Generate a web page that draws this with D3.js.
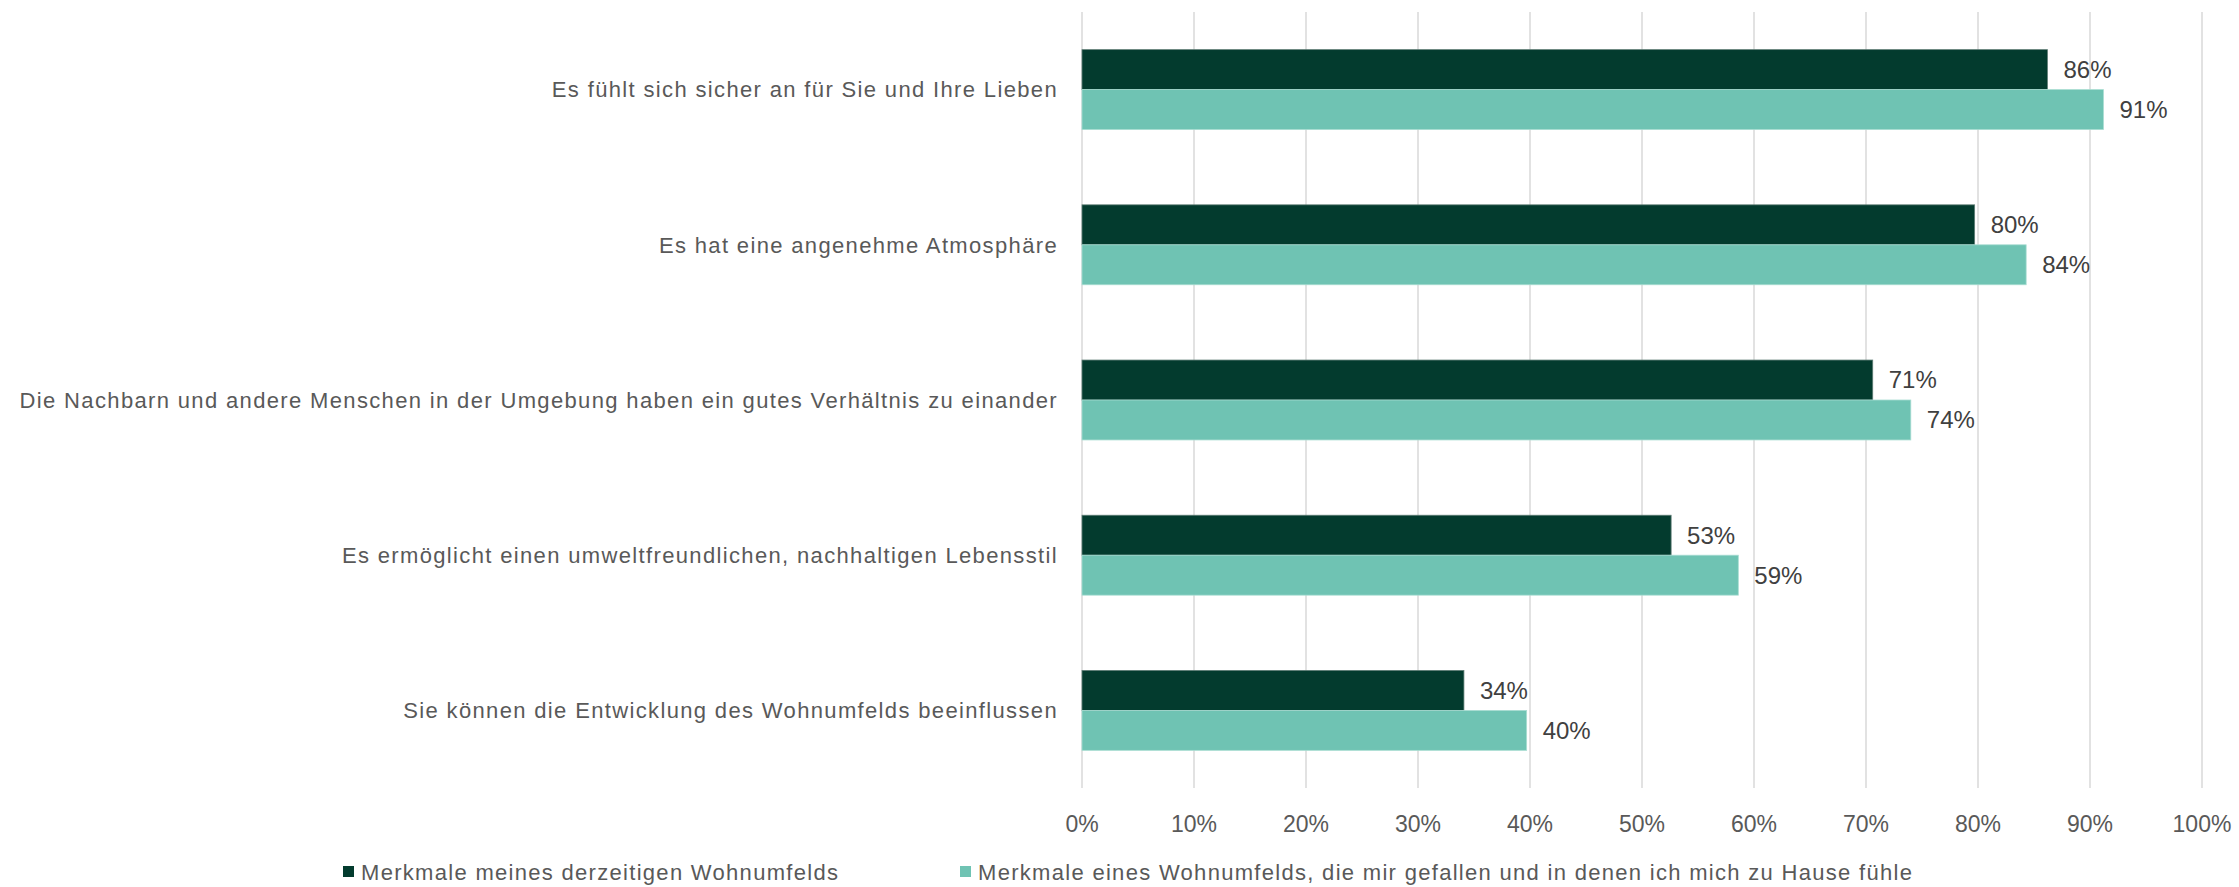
<!DOCTYPE html>
<html>
<head>
<meta charset="utf-8">
<script src="https://cdn.jsdelivr.net/npm/d3@7"></script>
<style>
  body { margin: 0; background: #fff; }
  text { font-family: "Liberation Sans", Arial, sans-serif; }
</style>
</head>
<body>
<div id="chart"></div>
<script>
// categories, top to bottom
const categories = [
  "Es fühlt sich sicher an für Sie und Ihre Lieben",
  "Es hat eine angenehme Atmosphäre",
  "Die Nachbarn und andere Menschen in der Umgebung haben ein gutes Verhältnis zu einander",
  "Es ermöglicht einen umweltfreundlichen, nachhaltigen Lebensstil",
  "Sie können die Entwicklung des Wohnumfelds beeinflussen"
];
const seriesNames = [
  "Merkmale meines derzeitigen Wohnumfelds",
  "Merkmale eines Wohnumfelds, die mir gefallen und in denen ich mich zu Hause fühle"
];
const current = [86.2, 79.7, 70.6, 52.6, 34.1];
const ideal = [91.2, 84.3, 74.0, 58.6, 39.7];
const ticks = [0, 10, 20, 30, 40, 50, 60, 70, 80, 90, 100];
const colors = ["#033b2e", "#6fc3b3"];

const W = 2239, H = 887;
const margin = {top: 12, right: 37, bottom: 99, left: 1082};
const width = W - margin.left - margin.right;
const height = H - margin.top - margin.bottom;

const svg = d3.select("#chart").append("svg")
  .attr("width", W).attr("height", H);

const g = svg.append("g")
  .attr("transform", `translate(${margin.left},${margin.top})`);

const x = d3.scaleLinear().domain([0, 100]).range([0, width]);
const y = d3.scaleBand().domain(categories).range([0, height]).paddingInner(0.485).paddingOuter(0.2425);
const sub = d3.scaleBand().domain([0, 1]).range([0, y.bandwidth()]);

// gridlines
g.selectAll(".grid").data(ticks).enter().append("line")
  .attr("x1", d => x(d)).attr("x2", d => x(d))
  .attr("y1", 0).attr("y2", height)
  .attr("stroke", "#d9d9d9").attr("stroke-width", 1.5);

// x axis labels
g.selectAll(".tick-label").data(ticks).enter().append("text")
  .attr("x", d => x(d)).attr("y", height + 44)
  .attr("text-anchor", "middle")
  .attr("fill", "#595959").attr("font-size", 23)
  .text(d => d + "%");

// category labels
g.selectAll(".cat").data(categories).enter().append("text")
  .attr("x", -24).attr("y", d => y(d) + y.bandwidth() / 2)
  .attr("dy", "0.35em")
  .attr("text-anchor", "end")
  .attr("fill", "#595959").attr("font-size", 22)
  .attr("letter-spacing", 1.35)
  .text(d => d);

const rows = [];
categories.forEach((c, i) => {
  rows.push({cat: c, s: 0, v: current[i]});
  rows.push({cat: c, s: 1, v: ideal[i]});
});

g.selectAll(".bar").data(rows).enter().append("rect")
  .attr("x", x(0))
  .attr("y", d => y(d.cat) + sub(d.s))
  .attr("width", d => x(d.v) - x(0))
  .attr("height", sub.bandwidth())
  .attr("fill", d => colors[d.s])
  .attr("stroke", d => d.s ? "#a9ddd2" : "#5f7d75")
  .attr("stroke-width", 0.8);

g.selectAll(".val").data(rows).enter().append("text")
  .attr("x", d => x(d.v) + 16)
  .attr("y", d => y(d.cat) + sub(d.s) + sub.bandwidth() / 2)
  .attr("dy", "0.35em")
  .attr("fill", "#404040").attr("font-size", 24)
  .text(d => Math.round(d.v) + "%");

// legend
const legendX = [343, 960];
const leg = svg.selectAll(".leg").data(seriesNames).enter().append("g")
  .attr("transform", (d, i) => `translate(${legendX[i]},872)`);
leg.append("rect")
  .attr("x", 0).attr("y", -6).attr("width", 11).attr("height", 11)
  .attr("fill", (d, i) => colors[i]);
leg.append("text")
  .attr("x", 18).attr("dy", "0.35em")
  .attr("fill", "#595959").attr("font-size", 22)
  .attr("letter-spacing", 1.3)
  .text(d => d);
</script>
</body>
</html>
